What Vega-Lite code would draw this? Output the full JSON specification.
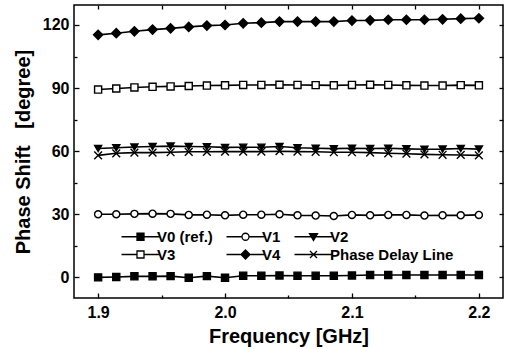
{
  "$schema": "https://vega.github.io/schema/vega-lite/v6.json",
  "width": 429,
  "height": 293,
  "autosize": "none",
  "padding": {"left": 74, "top": 5, "right": 2, "bottom": 51},
  "background": "white",
  "config": {
    "view": {"stroke": "black", "strokeWidth": 1.5},
    "font": "Liberation Sans",
    "axis": {
      "domain": false,
      "grid": false,
      "labelFont": "Liberation Sans",
      "labelFontWeight": "bold",
      "labelFontSize": 16,
      "labelColor": "black",
      "titleFont": "Liberation Sans",
      "titleFontWeight": "bold",
      "titleFontSize": 20,
      "titleColor": "black",
      "tickColor": "black",
      "tickWidth": 1.3
    },
    "legend": {"orient": "none", "legendX": 59, "legendY": 224, "direction": "horizontal", "columns": 3, "columnPadding": 10, "rowPadding": 2, "symbolSize": 100, "labelOffset": 9, "labelFontSize": 15, "labelFont": "Liberation Sans", "labelFontWeight": "bold", "labelColor": "black", "labelLimit": 300, "symbolStrokeWidth": 1.3, "symbolOpacity": 1, "padding": 0}
  },
  "data": {
    "values": [
      {"f": 1.9, "s": "V0 (ref.)", "p": 0.0}, {"f": 1.9143, "s": "V0 (ref.)", "p": 0.2}, {"f": 1.9286, "s": "V0 (ref.)", "p": 0.5}, {"f": 1.9429, "s": "V0 (ref.)", "p": 0.5}, {"f": 1.9571, "s": "V0 (ref.)", "p": 0.6}, {"f": 1.9714, "s": "V0 (ref.)", "p": -0.2}, {"f": 1.9857, "s": "V0 (ref.)", "p": 0.6}, {"f": 2.0, "s": "V0 (ref.)", "p": -0.2}, {"f": 2.0143, "s": "V0 (ref.)", "p": 0.8}, {"f": 2.0286, "s": "V0 (ref.)", "p": 0.8}, {"f": 2.0429, "s": "V0 (ref.)", "p": 0.9}, {"f": 2.0571, "s": "V0 (ref.)", "p": 0.8}, {"f": 2.0714, "s": "V0 (ref.)", "p": 0.8}, {"f": 2.0857, "s": "V0 (ref.)", "p": 0.8}, {"f": 2.1, "s": "V0 (ref.)", "p": 0.9}, {"f": 2.1143, "s": "V0 (ref.)", "p": 1.1}, {"f": 2.1286, "s": "V0 (ref.)", "p": 1.1}, {"f": 2.1429, "s": "V0 (ref.)", "p": 1.1}, {"f": 2.1571, "s": "V0 (ref.)", "p": 1.1}, {"f": 2.1714, "s": "V0 (ref.)", "p": 1.1}, {"f": 2.1857, "s": "V0 (ref.)", "p": 1.1}, {"f": 2.2, "s": "V0 (ref.)", "p": 1.1},
      {"f": 1.9, "s": "V1", "p": 30.0}, {"f": 1.9143, "s": "V1", "p": 30.0}, {"f": 1.9286, "s": "V1", "p": 30.2}, {"f": 1.9429, "s": "V1", "p": 30.3}, {"f": 1.9571, "s": "V1", "p": 30.2}, {"f": 1.9714, "s": "V1", "p": 29.7}, {"f": 1.9857, "s": "V1", "p": 29.8}, {"f": 2.0, "s": "V1", "p": 29.5}, {"f": 2.0143, "s": "V1", "p": 29.8}, {"f": 2.0286, "s": "V1", "p": 29.8}, {"f": 2.0429, "s": "V1", "p": 30.0}, {"f": 2.0571, "s": "V1", "p": 29.5}, {"f": 2.0714, "s": "V1", "p": 29.4}, {"f": 2.0857, "s": "V1", "p": 29.2}, {"f": 2.1, "s": "V1", "p": 29.7}, {"f": 2.1143, "s": "V1", "p": 29.5}, {"f": 2.1286, "s": "V1", "p": 29.7}, {"f": 2.1429, "s": "V1", "p": 29.7}, {"f": 2.1571, "s": "V1", "p": 29.4}, {"f": 2.1714, "s": "V1", "p": 29.5}, {"f": 2.1857, "s": "V1", "p": 29.5}, {"f": 2.2, "s": "V1", "p": 29.7},
      {"f": 1.9, "s": "V2", "p": 61.3}, {"f": 1.9143, "s": "V2", "p": 61.6}, {"f": 1.9286, "s": "V2", "p": 62.0}, {"f": 1.9429, "s": "V2", "p": 62.2}, {"f": 1.9571, "s": "V2", "p": 62.4}, {"f": 1.9714, "s": "V2", "p": 62.2}, {"f": 1.9857, "s": "V2", "p": 62.1}, {"f": 2.0, "s": "V2", "p": 61.8}, {"f": 2.0143, "s": "V2", "p": 61.9}, {"f": 2.0286, "s": "V2", "p": 61.9}, {"f": 2.0429, "s": "V2", "p": 62.2}, {"f": 2.0571, "s": "V2", "p": 61.6}, {"f": 2.0714, "s": "V2", "p": 61.4}, {"f": 2.0857, "s": "V2", "p": 61.2}, {"f": 2.1, "s": "V2", "p": 61.4}, {"f": 2.1143, "s": "V2", "p": 61.3}, {"f": 2.1286, "s": "V2", "p": 61.4}, {"f": 2.1429, "s": "V2", "p": 61.1}, {"f": 2.1571, "s": "V2", "p": 60.9}, {"f": 2.1714, "s": "V2", "p": 61.0}, {"f": 2.1857, "s": "V2", "p": 61.3}, {"f": 2.2, "s": "V2", "p": 61.0},
      {"f": 1.9, "s": "V3", "p": 89.3}, {"f": 1.9143, "s": "V3", "p": 89.8}, {"f": 1.9286, "s": "V3", "p": 90.3}, {"f": 1.9429, "s": "V3", "p": 90.6}, {"f": 1.9571, "s": "V3", "p": 90.8}, {"f": 1.9714, "s": "V3", "p": 91.0}, {"f": 1.9857, "s": "V3", "p": 91.2}, {"f": 2.0, "s": "V3", "p": 91.3}, {"f": 2.0143, "s": "V3", "p": 91.5}, {"f": 2.0286, "s": "V3", "p": 91.5}, {"f": 2.0429, "s": "V3", "p": 91.6}, {"f": 2.0571, "s": "V3", "p": 91.5}, {"f": 2.0714, "s": "V3", "p": 91.4}, {"f": 2.0857, "s": "V3", "p": 91.3}, {"f": 2.1, "s": "V3", "p": 91.5}, {"f": 2.1143, "s": "V3", "p": 91.6}, {"f": 2.1286, "s": "V3", "p": 91.5}, {"f": 2.1429, "s": "V3", "p": 91.3}, {"f": 2.1571, "s": "V3", "p": 91.2}, {"f": 2.1714, "s": "V3", "p": 91.2}, {"f": 2.1857, "s": "V3", "p": 91.4}, {"f": 2.2, "s": "V3", "p": 91.3},
      {"f": 1.9, "s": "V4", "p": 115.3}, {"f": 1.9143, "s": "V4", "p": 116.1}, {"f": 1.9286, "s": "V4", "p": 117.0}, {"f": 1.9429, "s": "V4", "p": 117.8}, {"f": 1.9571, "s": "V4", "p": 118.4}, {"f": 1.9714, "s": "V4", "p": 119.1}, {"f": 1.9857, "s": "V4", "p": 119.7}, {"f": 2.0, "s": "V4", "p": 120.0}, {"f": 2.0143, "s": "V4", "p": 120.8}, {"f": 2.0286, "s": "V4", "p": 121.1}, {"f": 2.0429, "s": "V4", "p": 121.6}, {"f": 2.0571, "s": "V4", "p": 121.6}, {"f": 2.0714, "s": "V4", "p": 121.6}, {"f": 2.0857, "s": "V4", "p": 121.6}, {"f": 2.1, "s": "V4", "p": 122.1}, {"f": 2.1143, "s": "V4", "p": 122.2}, {"f": 2.1286, "s": "V4", "p": 122.5}, {"f": 2.1429, "s": "V4", "p": 122.5}, {"f": 2.1571, "s": "V4", "p": 122.5}, {"f": 2.1714, "s": "V4", "p": 122.7}, {"f": 2.1857, "s": "V4", "p": 123.0}, {"f": 2.2, "s": "V4", "p": 123.2},
      {"f": 1.9, "s": "Phase Delay Line", "p": 58.0}, {"f": 1.9143, "s": "Phase Delay Line", "p": 59.0}, {"f": 1.9286, "s": "Phase Delay Line", "p": 59.3}, {"f": 1.9429, "s": "Phase Delay Line", "p": 59.3}, {"f": 1.9571, "s": "Phase Delay Line", "p": 59.5}, {"f": 1.9714, "s": "Phase Delay Line", "p": 59.7}, {"f": 1.9857, "s": "Phase Delay Line", "p": 59.7}, {"f": 2.0, "s": "Phase Delay Line", "p": 59.8}, {"f": 2.0143, "s": "Phase Delay Line", "p": 59.8}, {"f": 2.0286, "s": "Phase Delay Line", "p": 59.8}, {"f": 2.0429, "s": "Phase Delay Line", "p": 60.0}, {"f": 2.0571, "s": "Phase Delay Line", "p": 59.8}, {"f": 2.0714, "s": "Phase Delay Line", "p": 59.7}, {"f": 2.0857, "s": "Phase Delay Line", "p": 59.5}, {"f": 2.1, "s": "Phase Delay Line", "p": 59.5}, {"f": 2.1143, "s": "Phase Delay Line", "p": 59.3}, {"f": 2.1286, "s": "Phase Delay Line", "p": 59.0}, {"f": 2.1429, "s": "Phase Delay Line", "p": 58.8}, {"f": 2.1571, "s": "Phase Delay Line", "p": 58.5}, {"f": 2.1714, "s": "Phase Delay Line", "p": 58.3}, {"f": 2.1857, "s": "Phase Delay Line", "p": 58.2}, {"f": 2.2, "s": "Phase Delay Line", "p": 58.0}
    ]
  },
  "layer": [
    {
      "mark": {"type": "line", "color": "black", "strokeWidth": 1.6},
      "encoding": {
        "x": {
          "field": "f", "type": "quantitative",
          "scale": {"domain": [1.881, 2.219], "nice": false, "zero": false},
          "axis": {"orient": "bottom", "values": [1.9, 2.0, 2.1, 2.2], "format": ".1f", "tickSize": -5, "labelPadding": 11, "title": "Frequency [GHz]", "titlePadding": 6}
        },
        "y": {
          "field": "p", "type": "quantitative",
          "scale": {"domain": [-9.8, 129.5], "nice": false, "zero": false},
          "axis": {"orient": "left", "values": [0, 30, 60, 90, 120], "tickSize": -5, "labelPadding": 10, "title": "Phase Shift\u00a0\u00a0\u00a0[degree]", "titlePadding": 9}
        },
        "detail": {"field": "s"}
      }
    },
    {
      "mark": {"type": "point", "stroke": "black", "strokeWidth": 1.4, "size": 50, "opacity": 1},
      "encoding": {
        "x": {
          "field": "f", "type": "quantitative",
          "axis": {"orient": "top", "values": [1.9, 1.95, 2.0, 2.05, 2.1, 2.15, 2.2], "tickSize": -4, "labels": false, "title": null}
        },
        "y": {
          "field": "p", "type": "quantitative",
          "axis": {"orient": "right", "values": [0, 15, 30, 45, 60, 75, 90, 105, 120], "tickSize": -4, "labels": false, "title": null}
        },
        "shape": {
          "field": "s", "type": "nominal",
          "scale": {"domain": ["V0 (ref.)", "V1", "V2", "V3", "V4", "Phase Delay Line"], "range": ["square", "circle", "triangle-down", "square", "M0,-1.3L1.3,0L0,1.3L-1.3,0Z", "M-1.1,-1.1L1.1,1.1M-1.1,1.1L1.1,-1.1"]},
          "legend": null
        },
        "fill": {
          "field": "s", "type": "nominal",
          "scale": {"domain": ["V0 (ref.)", "V1", "V2", "V3", "V4", "Phase Delay Line"], "range": ["black", "white", "black", "white", "black", "white"]},
          "legend": null
        }
      }
    },
    {
      "mark": {"type": "point", "stroke": "black", "strokeWidth": 1.3, "opacity": 0},
      "encoding": {
        "x": {
          "field": "f", "type": "quantitative",
          "axis": {"orient": "bottom", "values": [1.95, 2.05, 2.15], "tickSize": -3, "labels": false, "title": null}
        },
        "y": {
          "field": "p", "type": "quantitative",
          "axis": {"orient": "left", "values": [15, 45, 75, 105], "tickSize": -3, "labels": false, "title": null}
        },
        "shape": {
          "field": "s", "type": "nominal",
          "scale": {"domain": ["V0 (ref.)", "V1", "V2", "V3", "V4", "Phase Delay Line"], "range": [
            "M-3.8,0H3.8M-0.7,-0.7H0.7V0.7H-0.7Z",
            "M-3.8,0H-0.7M0.7,0H3.8M-0.7,0A0.7,0.7,0,1,0,0.7,0A0.7,0.7,0,1,0,-0.7,0Z",
            "M-3.8,0H3.8M-0.8,-0.6H0.8L0,0.75Z",
            "M-3.8,0H-0.7M0.7,0H3.8M-0.7,-0.7H0.7V0.7H-0.7Z",
            "M-3.8,0H3.8M0,-0.9L0.9,0L0,0.9L-0.9,0Z",
            "M-3.8,0H3.8M-0.7,-0.7L0.7,0.7M-0.7,0.7L0.7,-0.7"
          ]},
          "legend": {"title": null}
        },
        "fill": {
          "field": "s", "type": "nominal",
          "scale": {"domain": ["V0 (ref.)", "V1", "V2", "V3", "V4", "Phase Delay Line"], "range": ["black", "white", "black", "white", "black", "white"]},
          "legend": {"title": null}
        },
        "stroke": {
          "field": "s", "type": "nominal",
          "scale": {"domain": ["V0 (ref.)", "V1", "V2", "V3", "V4", "Phase Delay Line"], "range": ["black", "black", "black", "black", "black", "black"]},
          "legend": {"title": null}
        }
      }
    }
  ],
  "resolve": {
    "scale": {"shape": "independent", "fill": "independent", "stroke": "independent"},
    "axis": {"x": "independent", "y": "independent"}
  }
}
